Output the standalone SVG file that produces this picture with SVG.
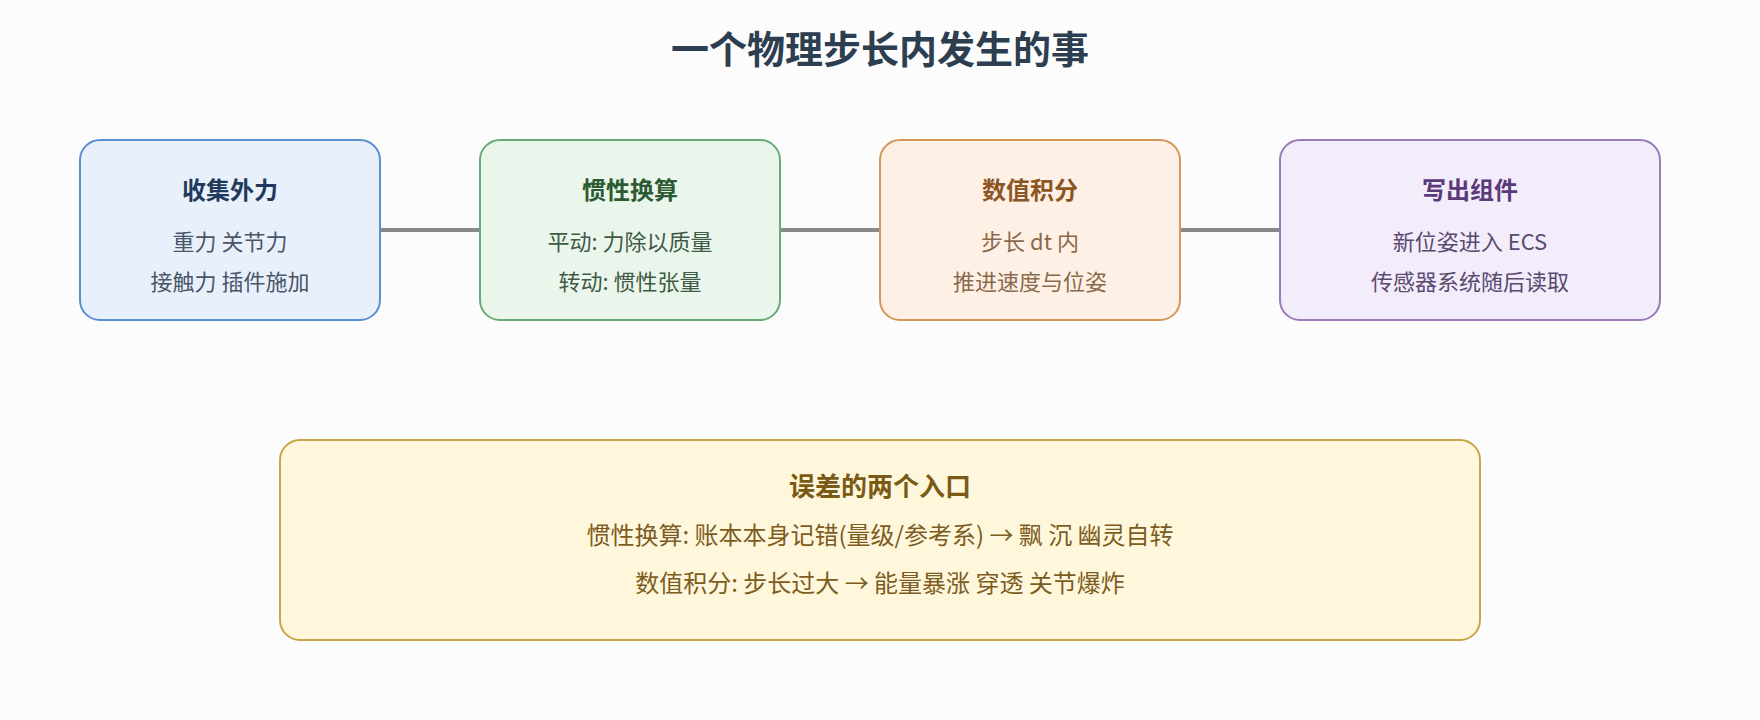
<svg xmlns="http://www.w3.org/2000/svg" width="1760" height="720" viewBox="0 0 1760 720">
  <style>
    text { font-family: "Noto Sans CJK SC", "Noto Sans", sans-serif; text-anchor: middle; dominant-baseline: central; }
    .title { font-size: 38px; font-weight: 700; fill: #2c3e50; }
    .nt { font-size: 24px; font-weight: 700; }
    .nb { font-size: 22px; }
    .bt { font-size: 26px; font-weight: 700; fill: #7a5a14; }
    .bb { font-size: 24px; fill: #7d5c22; }
    .box { stroke-width: 2; }
    .conn { stroke: #888888; stroke-width: 4; fill: none; }
  </style>
  <rect x="0" y="0" width="1760" height="720" fill="#fcfcfc"/>
  <text class="title" x="880" y="46.5">一个物理步长内发生的事</text>
  <g id="connectors">
    <line class="conn" x1="380" y1="230" x2="480" y2="230"/>
    <line class="conn" x1="780" y1="230" x2="880" y2="230"/>
    <line class="conn" x1="1180" y1="230" x2="1280" y2="230"/>
  </g>
  <g id="node-collect">
    <rect class="box" x="80" y="140" width="300" height="180" rx="20" fill="#e8f0fc" stroke="#5a8fd0"/>
    <text class="nt" x="230" y="188.5" fill="#1f3a5a">收集外力</text>
    <text class="nb" x="230" y="239.5" fill="#4a5568">重力 关节力</text>
    <text class="nb" x="230" y="279.5" fill="#4a5568">接触力 插件施加</text>
  </g>
  <g id="node-inertia">
    <rect class="box" x="480" y="140" width="300" height="180" rx="20" fill="#eaf6ec" stroke="#6aaa7a"/>
    <text class="nt" x="630" y="188.5" fill="#2e5a32">惯性换算</text>
    <text class="nb" x="630" y="239.5" fill="#3f5a45">平动: 力除以质量</text>
    <text class="nb" x="630" y="279.5" fill="#3f5a45">转动: 惯性张量</text>
  </g>
  <g id="node-integrate">
    <rect class="box" x="880" y="140" width="300" height="180" rx="20" fill="#fff0e6" stroke="#d4975a"/>
    <text class="nt" x="1030" y="188.5" fill="#8b5524">数值积分</text>
    <text class="nb" x="1030" y="239.5" fill="#8a6a4a">步长 dt 内</text>
    <text class="nb" x="1030" y="279.5" fill="#8a6a4a">推进速度与位姿</text>
  </g>
  <g id="node-write">
    <rect class="box" x="1280" y="140" width="380" height="180" rx="20" fill="#f3ecfb" stroke="#9a7ab8"/>
    <text class="nt" x="1470" y="188.5" fill="#5b3a7a">写出组件</text>
    <text class="nb" x="1470" y="239.5" fill="#5a4a70">新位姿进入 ECS</text>
    <text class="nb" x="1470" y="279.5" fill="#5a4a70">传感器系统随后读取</text>
  </g>
  <g id="node-errors">
    <rect class="box" x="280" y="440" width="1200" height="200" rx="20" fill="#fff7dc" stroke="#c8a44a"/>
    <text class="bt" x="880" y="484">误差的两个入口</text>
    <text class="bb" x="880" y="533.5">惯性换算: 账本本身记错(量级/参考系) → 飘 沉 幽灵自转</text>
    <text class="bb" x="880" y="581.5">数值积分: 步长过大 → 能量暴涨 穿透 关节爆炸</text>
  </g>
</svg>
